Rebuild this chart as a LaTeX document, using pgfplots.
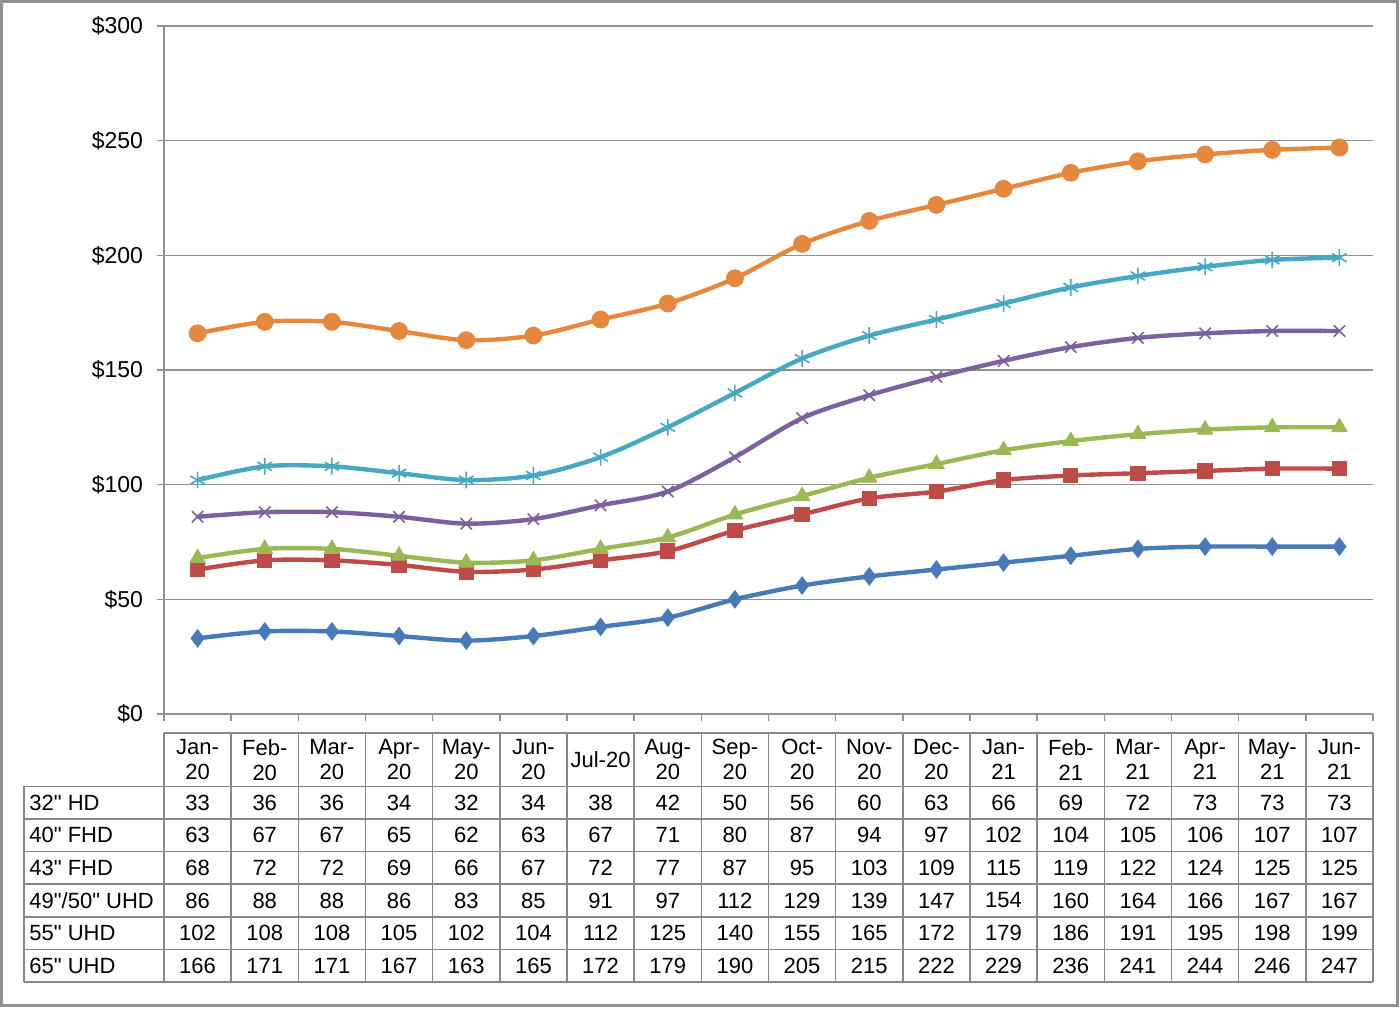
\documentclass[border=0pt]{standalone}
\usepackage{fontspec}
\setmainfont{Liberation Sans}[Ligatures=TeXOff]
\usepackage{pgfplots}
\usepackage{pgfplotstable}
\pgfplotsset{compat=1.18}

\definecolor{cHD}{RGB}{70,122,185}
\definecolor{cFA}{RGB}{190,75,72}
\definecolor{cFB}{RGB}{152,185,84}
\definecolor{cUA}{RGB}{125,96,160}
\definecolor{cUB}{RGB}{72,168,195}
\definecolor{cUC}{RGB}{230,135,62}
\definecolor{gridgray}{RGB}{145,145,145}
\definecolor{framegray}{RGB}{145,145,145}
\definecolor{tablegray}{RGB}{135,135,135}

\pgfplotstableread{
i hd fa fb ua ub uc
0 33 63 68 86 102 166
1 36 67 72 88 108 171
2 36 67 72 88 108 171
3 34 65 69 86 105 167
4 32 62 66 83 102 163
5 34 63 67 85 104 165
6 38 67 72 91 112 172
7 42 71 77 97 125 179
8 50 80 87 112 140 190
9 56 87 95 129 155 205
10 60 94 103 139 165 215
11 63 97 109 147 172 222
12 66 102 115 154 179 229
13 69 104 119 160 186 236
14 72 105 122 164 191 241
15 73 106 124 166 195 244
16 73 107 125 167 198 246
17 73 107 125 167 199 247
}\data

\newcommand{\tf}{\fontsize{11}{12.5}\selectfont}
\newcommand{\qq}{\symbol{34}}

\begin{document}
\begin{tikzpicture}
\useasboundingbox (-82pt,-147pt) rectangle (618pt,357pt);
\draw[line width=1.5pt, framegray] (-81.25pt,-145.75pt) rectangle (616.75pt,356.25pt);
\begin{axis}[at={(0pt,0pt)}, anchor=south west, scale only axis,
  width=604.5pt, height=344pt,
  xmin=-0.5, xmax=17.5, ymin=0, ymax=300,
  axis lines*=left,
  axis line style={gridgray, line width=0.75pt},
  xtick={-0.5,0.5,...,17.5}, xticklabels={},
  ytick={0,50,...,300},
  yticklabels={\$0,\$50,\$100,\$150,\$200,\$250,\$300},
  ymajorgrids, grid style={gridgray, line width=0.75pt},
  tick align=outside, major tick length=3.5pt,
  tick style={gridgray, line width=0.75pt},
  tick pos=left,
  yticklabel style={font=\fontsize{11.5}{13}\selectfont, anchor=east, xshift=-3.5pt},
  /pgf/number format/assume math mode=true,
  clip=false,
]
\addplot[cHD, smooth, tension=0.5, line width=2.2pt, mark=diamond*, mark size=4.3pt, mark options={solid,line width=0.5pt}] table[x=i,y=hd]{\data};
\addplot[cFA, smooth, tension=0.5, line width=2.2pt, mark=square*, mark size=3.6pt, mark options={solid,line width=0.5pt}] table[x=i,y=fa]{\data};
\addplot[cFB, smooth, tension=0.5, line width=2.2pt, mark=triangle*, mark size=4.4pt, mark options={solid,line width=0.5pt}] table[x=i,y=fb]{\data};
\addplot[cUA, smooth, tension=0.5, line width=2.2pt, mark=x, mark size=4pt, mark options={solid,line width=0.8pt}] table[x=i,y=ua]{\data};
\addplot[cUB, smooth, tension=0.5, line width=2.2pt, mark=asterisk, mark size=4.2pt, mark options={solid,line width=0.8pt}] table[x=i,y=ub]{\data};
\addplot[cUC, smooth, tension=0.5, line width=2.2pt, mark=*, mark size=4.2pt, mark options={solid,line width=0.5pt}] table[x=i,y=uc]{\data};
\end{axis}
% data table
\def\htop{-9.5pt}
\def\hbot{-36.2pt}
\def\tbot{-134pt}
\def\hmid{-22.85pt}
\begin{scope}[tablegray, line width=0.75pt]
  \draw (0pt,\htop) -- (604.5pt,\htop);
  \foreach \k in {0,...,6} {
    \pgfmathsetmacro{\yy}{-36.2-\k*16.3}
    \draw (-70pt,\yy pt) -- (604.5pt,\yy pt);
  }
  \draw (-70pt,\hbot) -- (-70pt,\tbot);
  \foreach \j in {0,...,18} {
    \pgfmathsetmacro{\xx}{\j*33.5833}
    \draw (\xx pt,\htop) -- (\xx pt,\tbot);
  }
\end{scope}
\foreach \lab [count=\c from 0] in {Jan-\\20,Feb-\\20,Mar-\\20,Apr-\\20,May-\\20,Jun-\\20,Jul-20,Aug-\\20,Sep-\\20,Oct-\\20,Nov-\\20,Dec-\\20,Jan-\\21,Feb-\\21,Mar-\\21,Apr-\\21,May-\\21,Jun-\\21} {
  \pgfmathsetmacro{\xc}{(\c+0.5)*33.5833}
  \node[align=center, font=\tf, inner sep=0pt] at (\xc pt,\hmid) {\lab};
}
\foreach \col/\name [count=\r from 0] in {hd/{32\qq{} HD},fa/{40\qq{} FHD},fb/{43\qq{} FHD},ua/{49\qq/50\qq{} UHD},ub/{55\qq{} UHD},uc/{65\qq{} UHD}} {
  \pgfmathsetmacro{\yc}{-36.2-(\r+0.5)*16.3}
  \node[anchor=west, font=\tf, inner sep=0pt] at (-67.5pt,\yc pt) {\name};
  \foreach \m in {0,...,17} {
    \pgfplotstablegetelem{\m}{\col}\of\data
    \pgfmathsetmacro{\xc}{(\m+0.5)*33.5833}
    \node[font=\tf, inner sep=0pt] at (\xc pt,\yc pt) {\pgfplotsretval};
  }
}
\end{tikzpicture}
\end{document}
